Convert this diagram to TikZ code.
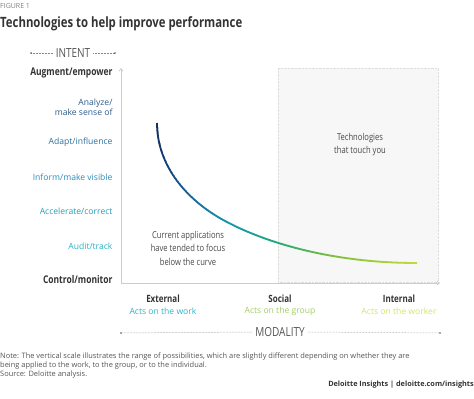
\documentclass[tikz,border=0pt]{standalone}
\usepackage{fontspec}
\setmainfont{Open Sans}
\newfontfamily\condfont[FakeStretch=0.8]{Open Sans}
\usetikzlibrary{arrows.meta}

\definecolor{axisgrey}{HTML}{CCCCCC}
\definecolor{darklabel}{HTML}{333333}
\definecolor{textgrey}{HTML}{555555}
\definecolor{boxfill}{HTML}{F7F7F7}
\definecolor{boxline}{HTML}{DDDDDD}
% intent levels
\definecolor{lvlA}{HTML}{2B5B8A}
\definecolor{lvlB}{HTML}{2A6F9E}
\definecolor{lvlC}{HTML}{2A8BBF}
\definecolor{lvlD}{HTML}{22A0B8}
\definecolor{lvlE}{HTML}{2DB2C6}
% modality
\definecolor{modA}{HTML}{2DB5C8}
\definecolor{modB}{HTML}{A5CC6B}
\definecolor{modC}{HTML}{D5E36A}
% curve colour stops
\definecolor{crvA}{HTML}{0F2D5E}
\definecolor{crvB}{HTML}{1B5E96}
\definecolor{crvC}{HTML}{1496AE}
\definecolor{crvD}{HTML}{1FA67A}
\definecolor{crvE}{HTML}{78BE3C}
\definecolor{crvF}{HTML}{C5DB3C}

\newcommand\perfcurve[1]{%
  \draw[#1] (157,123) .. controls (157,163) and (183,196) .. (218,217)
    .. controls (248,235) and (317,263) .. (417,263);}

\begin{document}
\begin{tikzpicture}[x=1pt,y=-1pt,
  ylabel/.style={anchor=east,align=right,font=\fontsize{8.6}{9.8}\selectfont},
  ybold/.style={anchor=east,text=darklabel,font=\condfont\bfseries\fontsize{10.6}{12}\selectfont},
  xbold/.style={text=darklabel,font=\condfont\bfseries\fontsize{10}{12}\selectfont},
  xsub/.style={font=\fontsize{8.6}{9.5}\selectfont},
  headtext/.style={text=textgrey,fill=white,inner xsep=3pt,font=\condfont\fontsize{12.5}{14}\selectfont},
  dotline/.style={textgrey!70,densely dotted,line width=0.5pt},
  areatext/.style={align=center,text=textgrey!85!black,font=\condfont\fontsize{9.5}{13.5}\selectfont},
  notetext/.style={anchor=base west,inner sep=0pt,text=textgrey,font=\fontsize{7.45}{9}\selectfont}]

\useasboundingbox (0,0) rectangle (474,399);

% Heading
\node[anchor=base west,inner sep=0pt,text=gray,font=\fontsize{7}{8}\selectfont] (fig) at (0,8.5) {FIGURE 1};
\node[anchor=base west,inner sep=0pt,text=darklabel,font=\condfont\bfseries\fontsize{14.2}{16}\selectfont] (title) at (0,27.5) {Technologies to help improve performance};

% Intent header
\node[headtext] (intent) at (73,53) {INTENT};
\coordinate (intentL) at (31,53);
\coordinate (intentR) at (115,53);
\draw[dotline] (intentL) -- (intent.west);
\draw[dotline] (intent.east) -- (intentR);
\fill[textgrey] (intentL) circle (0.8) (intentR) circle (0.8);

% Shaded area on the right
\draw[boxline,densely dotted,fill=boxfill] (278,68) rectangle (438,282);

% Axes
\coordinate (origin) at (121,283);
\coordinate (ytop) at (121,68);
\coordinate (xend) at (440,283);
\draw[axisgrey,line width=0.8pt,-{Straight Barb[length=2.5pt,width=4pt]}] (origin) -- (ytop);
\draw[axisgrey,line width=0.8pt,-{Straight Barb[length=2.5pt,width=4pt]}] (origin) -- (xend);

% Curve, coloured strip by strip
\foreach \xa/\xb/\ca/\cb in {154/186/crvA/crvB,186/230/crvB/crvC,230/276/crvC/crvD,276/330/crvD/crvE,330/420/crvE/crvF}{
  \pgfmathtruncatemacro\n{(\xb-\xa)/2}
  \foreach \k in {1,...,\n}{
    \pgfmathsetmacro\xl{\xa+2*(\k-1)}
    \pgfmathsetmacro\pc{100*(\k-0.5)/\n}
    \colorlet{segcol}{\cb!\pc!\ca}
    \begin{scope}
      \clip (\xl,100) rectangle ++(2.4,180);
      \perfcurve{line width=1.8pt,segcol}
    \end{scope}
  }
}

% Vertical scale
\node[ybold] (augment) at (116,73) {Augment/empower};
\node[ylabel,text=lvlA] (analyze) at (116,107.5) {Analyze/\\make sense of};
\node[ylabel,text=lvlB] (adapt) at (116,142) {Adapt/influence};
\node[ylabel,text=lvlC] (inform) at (116,177) {Inform/make visible};
\node[ylabel,text=lvlD] (accel) at (116,211) {Accelerate/correct};
\node[ylabel,text=lvlE] (audit) at (116,246) {Audit/track};
\node[ybold] (control) at (116,280) {Control/monitor};

% Area labels
\node[areatext] (below) at (188,248) {Current applications\\have tended to focus\\below the curve};
\node[areatext] (touch) at (360,144.5) {Technologies\\that touch you};

% Horizontal scale
\node[xbold] (external) at (163,299) {External};
\node[xsub,text=modA] (work) at (163,311) {Acts on the work};
\node[xbold] (social) at (280,299) {Social};
\node[xsub,text=modB] (group) at (280,311) {Acts on the group};
\node[xbold] (internal) at (399,299) {Internal};
\node[xsub,text=modC] (worker) at (399,311) {Acts on the worker};

% Modality header
\node[headtext] (modality) at (280,332) {MODALITY};
\coordinate (modL) at (121,333);
\coordinate (modR) at (440,333);
\draw[dotline] (modL) -- (modality.west);
\draw[dotline] (modality.east) -- (modR);
\fill[textgrey] (modL) circle (0.8) (modR) circle (0.8);

% Notes
\node[notetext] (note) at (0,358.5) {Note: The vertical scale illustrates the range of possibilities, which are slightly different depending on whether they are};
\node[notetext] (note2) at (0,367.5) {being applied to the work, to the group, or to the individual.};
\node[notetext] (source) at (0,376.5) {Source: Deloitte analysis.};
\node[anchor=base east,inner sep=0pt,text=darklabel,font=\bfseries\fontsize{7.3}{9}\selectfont] (brand) at (474,386.5) {Deloitte Insights | deloitte.com/insights};

\end{tikzpicture}
\end{document}
